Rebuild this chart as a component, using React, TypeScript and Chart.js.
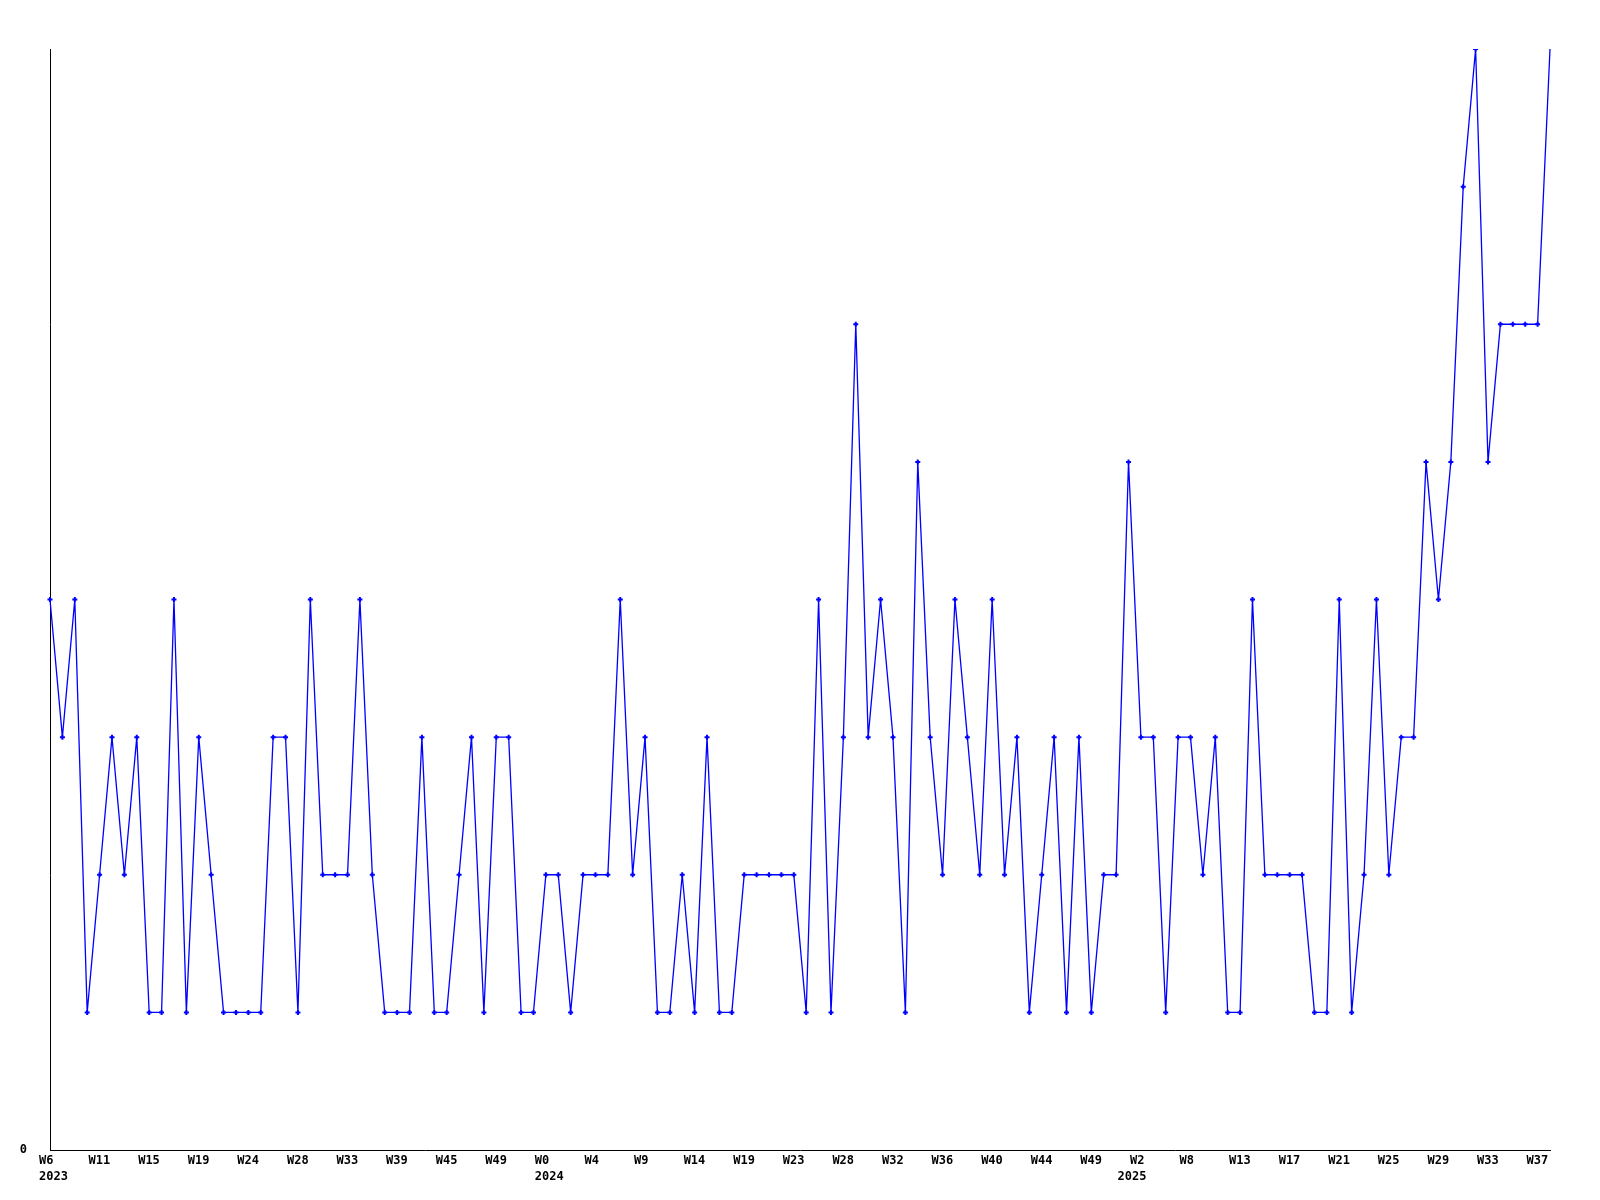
import React, { useEffect, useRef } from "react";
import { Chart, registerables } from "chart.js";

Chart.register(...registerables);

// Visible week tick labels (one every 4th weekly point)
const weekTickLabels = [
  "W6", "W11", "W15", "W19", "W24", "W28", "W33", "W39", "W45", "W49",
  "W0", "W4", "W9", "W14", "W19", "W23", "W28", "W32", "W36", "W40",
  "W44", "W49", "W2", "W8", "W13", "W17", "W21", "W25", "W29", "W33", "W37",
];

// Year labels, placed at the index of the first week of each year
const yearLabelIndex = [0, 40, 87];
const yearLabelText = ["2023", "2024", "2025"];

// Weekly values, 2023 W6 .. 2025 W38
const values = [
  4, 3, 4, 1, 2, 3, 2, 3, 1, 1,
  4, 1, 3, 2, 1, 1, 1, 1, 3, 3,
  1, 4, 2, 2, 2, 4, 2, 1, 1, 1,
  3, 1, 1, 2, 3, 1, 3, 3, 1, 1,
  2, 2, 1, 2, 2, 2, 4, 2, 3, 1,
  1, 2, 1, 3, 1, 1, 2, 2, 2, 2,
  2, 1, 4, 1, 3, 6, 3, 4, 3, 1,
  5, 3, 2, 4, 3, 2, 4, 2, 3, 1,
  2, 3, 1, 3, 1, 2, 2, 5, 3, 3,
  1, 3, 3, 2, 3, 1, 1, 4, 2, 2,
  2, 2, 1, 1, 4, 1, 2, 4, 2, 3,
  3, 5, 4, 5, 7, 8, 5, 6, 6, 6,
  6, 8,
];

const TICK_EVERY = 4;
const yMin = 0;
const yMax = 8;

export default function App() {
  const canvasRef = useRef<HTMLCanvasElement | null>(null);

  useEffect(() => {
    if (!canvasRef.current) return;
    const labels = values.map((_, i) => String(i));
    const font = { family: "'DejaVu Sans Mono', monospace", size: 12, weight: "bold" as const, lineHeight: 1.35 };
    const lastIndex = values.length - 1;
    const chart = new Chart(canvasRef.current, {
      type: "line",
      data: {
        labels,
        datasets: [
          {
            data: values,
            borderColor: "#0000ff",
            backgroundColor: "#0000ff",
            borderWidth: 1.3,
            tension: 0,
            pointStyle: "cross",
            pointRadius: (ctx: any) => (ctx.dataIndex === lastIndex ? 0 : 2.5),
            pointBorderWidth: 2,
            pointBorderColor: "#0000ff",
            pointBackgroundColor: "#0000ff",
            fill: false,
          },
        ],
      },
      options: {
        animation: false,
        responsive: true,
        maintainAspectRatio: false,
        layout: { padding: { left: 0, right: 42, top: 41, bottom: 0 } },
        plugins: { legend: { display: false }, tooltip: { enabled: false } },
        scales: {
          x: {
            type: "category",
            offset: false,
            grid: { display: false, drawTicks: false },
            border: { display: true, color: "#000000", width: 1 },
            afterFit: (scale: any) => {
              scale.height = 42;
            },
            ticks: {
              autoSkip: false,
              maxRotation: 0,
              minRotation: 0,
              align: "start",
              labelOffset: -11,
              padding: 3,
              color: "#000000",
              font,
              callback: (_v: any, index: number) => {
                let w = "";
                if (index % TICK_EVERY === 0) {
                  const k = index / TICK_EVERY;
                  w = weekTickLabels[k] ?? "";
                }
                const yi = yearLabelIndex.indexOf(index);
                if (yi >= 0) return [w, yearLabelText[yi]];
                return w;
              },
            },
          },
          y: {
            min: yMin,
            max: yMax,
            grid: { display: false, drawTicks: false },
            border: { display: true, color: "#000000", width: 1 },
            afterFit: (scale: any) => {
              scale.width = 42;
            },
            ticks: {
              stepSize: 1,
              padding: 23,
              color: "#000000",
              font,
              callback: (v: any) => (Number(v) === 0 ? "0" : ""),
            },
          },
        },
      },
    });
    return () => chart.destroy();
  }, []);

  return (
    <div style={{ position: "relative", width: "1584px", height: "1184px" }}>
      <canvas ref={canvasRef} />
    </div>
  );
}
